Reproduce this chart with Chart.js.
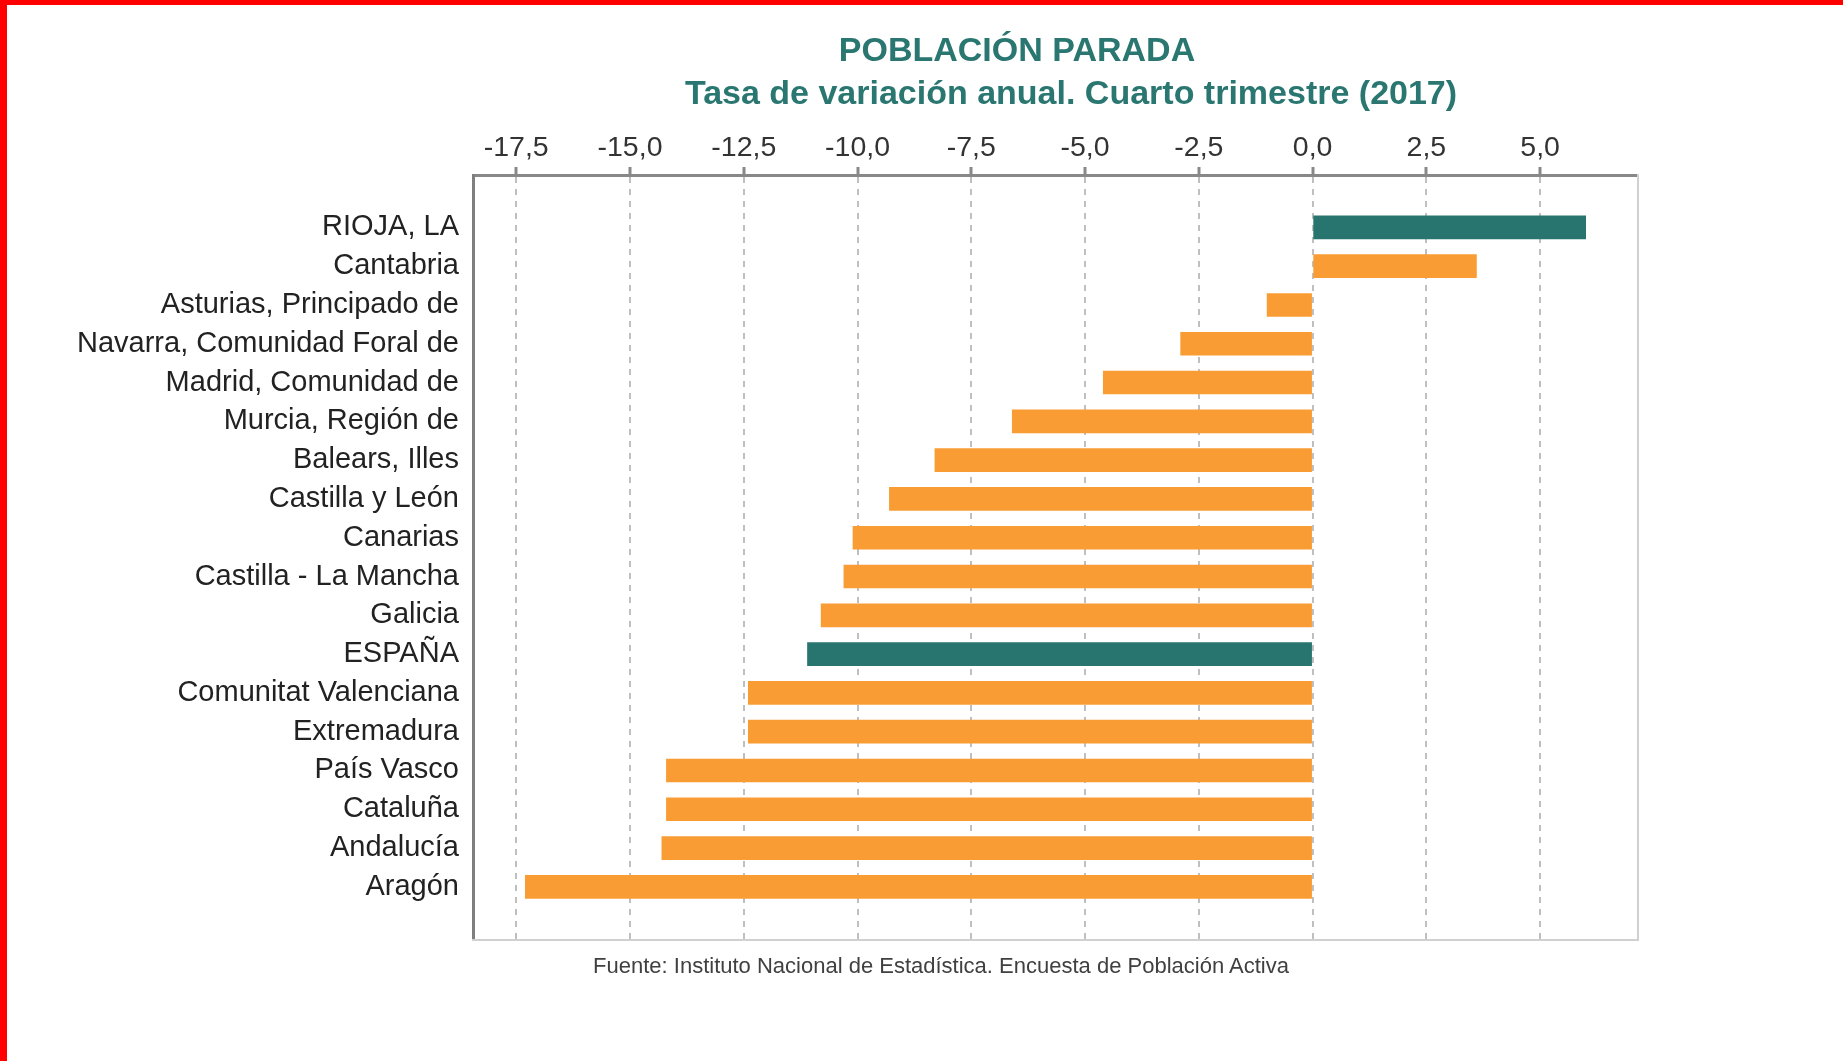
<!DOCTYPE html>
<html><head><meta charset="utf-8">
<script src="https://cdn.jsdelivr.net/npm/chart.js@4.4.1/dist/chart.umd.min.js"></script>
<style>
html,body{margin:0;padding:0;background:#fff;width:1843px;height:1061px;overflow:hidden;}
#wrap{position:absolute;left:0;top:0;width:1843px;height:1061px;}
.rb{position:absolute;background:#ff0000;z-index:5}
.t{position:absolute;font-family:"Liberation Sans",Arial,sans-serif;white-space:nowrap;transform:translate(-50%,-50%);line-height:1;}
</style></head><body>
<div id="wrap"><canvas id="c" width="1843" height="1061"></canvas></div>
<div class="rb" style="left:0;top:0;width:1843px;height:5px"></div>
<div class="rb" style="left:0;top:0;width:7px;height:1061px"></div>
<div class="t" style="left:1017px;top:49px;font-weight:bold;font-size:34px;color:#2a7670">POBLACIÓN PARADA</div>
<div class="t" style="left:1071px;top:92px;font-weight:bold;font-size:34px;color:#2a7670">Tasa de variación anual. Cuarto trimestre (2017)</div>
<div class="t" style="left:941px;top:966px;font-size:22px;color:#404040">Fuente: Instituto Nacional de Estadística. Encuesta de Población Activa</div>
<script>
const categories = ['RIOJA, LA','Cantabria','Asturias, Principado de','Navarra, Comunidad Foral de','Madrid, Comunidad de','Murcia, Región de','Balears, Illes','Castilla y León','Canarias','Castilla - La Mancha','Galicia','ESPAÑA','Comunitat Valenciana','Extremadura','País Vasco','Cataluña','Andalucía','Aragón'];
const values = [6.0, 3.6, -1.0, -2.9, -4.6, -6.6, -8.3, -9.3, -10.1, -10.3, -10.8, -11.1, -12.4, -12.4, -14.2, -14.2, -14.3, -17.3];
const highlighted = ['RIOJA, LA','ESPAÑA'];
const xMin = -18.45, xMax = 7.15, xStep = 2.5;

const TEAL = '#28756f', ORANGE = '#f99c34';
const FONT = '"Liberation Sans", Arial, sans-serif';

const points = values.map((v, i) => ({x: v, y: i}));
const colors = categories.map(c => highlighted.includes(c) ? TEAL : ORANGE);

new Chart(document.getElementById('c'), {
  type: 'bar',
  data: {
    datasets: [{
      data: points,
      backgroundColor: colors,
      borderWidth: 0,
      barThickness: 23,
      xAxisID: 'x',
      yAxisID: 'y'
    }]
  },
  options: {
    indexAxis: 'y',
    responsive: false,
    animation: false,
    devicePixelRatio: 1,
    layout: {padding: {left: 0, right: 205, top: 0, bottom: 121}},
    plugins: {legend: {display: false}, tooltip: {enabled: false}, title: {display: false}},
    scales: {
      x: {
        type: 'linear', position: 'top', min: xMin, max: xMax, offset: false,
        ticks: {stepSize: xStep, includeBounds: false, padding: 2, color: '#333333',
          font: {family: FONT, size: 28.5},
          callback: v => v.toFixed(1).replace('.', ',')},
        grid: {color: '#bfbfbf', lineWidth: 2, drawTicks: true, tickLength: 8, tickColor: '#888888', tickWidth: 3, tickBorderDash: []},
        border: {display: true, color: '#888888', width: 3, dash: [6, 6]},
        afterFit: s => { s.height = 175; }
      },
      y: {
        type: 'linear', position: 'left', min: -1.35, max: 18.37, reverse: true, offset: false,
        ticks: {stepSize: 1, includeBounds: false, autoSkip: false, padding: 14, color: '#222222',
          font: {family: FONT, size: 29},
          callback: v => (Number.isInteger(v) && categories[v] !== undefined) ? categories[v] : ''},
        grid: {display: false, drawTicks: false, offset: false},
        border: {display: true, color: '#7f7f7f', width: 3},
        afterFit: s => { s.width = 473; }
      },
      x2: {
        type: 'linear', position: 'bottom', min: xMin, max: xMax,
        ticks: {display: false}, grid: {display: false, drawTicks: false},
        border: {display: true, color: '#d0d0d0', width: 2}
      },
      y2: {
        type: 'linear', position: 'right', min: 0, max: 1,
        ticks: {display: false}, grid: {display: false, drawTicks: false},
        border: {display: true, color: '#d0d0d0', width: 2}
      }
    }
  }
});
</script>
</body></html>
